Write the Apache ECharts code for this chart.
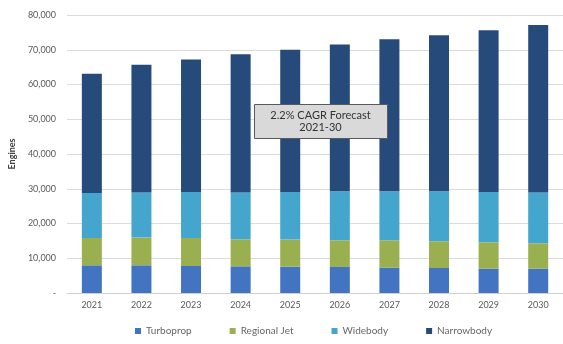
<!DOCTYPE html>
<html>
<head>
<meta charset="utf-8">
<script src="https://cdn.jsdelivr.net/npm/echarts@6/dist/echarts.min.js"></script>
<style>html,body{margin:0;padding:0;background:#fff}#c{width:563px;height:344px}</style>
</head>
<body>
<div id="c"></div>
<script>
const years = ['2021','2022','2023','2024','2025','2026','2027','2028','2029','2030'];
const turboprop   = [7970, 7970, 7770, 7680, 7580, 7490, 7300, 7200, 7010, 7010];
const regionalJet = [7860, 7970, 8060, 7770, 7790, 7680, 7870, 7680, 7580, 7290];
const widebody    = [12950, 12950, 13230, 13440, 13690, 14100, 14100, 14390, 14470, 14590];
const narrowbody  = [34320, 36810, 38140, 39810, 40940, 42230, 43730, 44930, 46540, 48210];
const seriesNames = ['Turboprop', 'Regional Jet', 'Widebody', 'Narrowbody'];
const annotationLines = ['2.2% CAGR Forecast', '2021-30'];

const colors = ['#4274c2', '#9aaf4f', '#44a5cd', '#264b7a'];
const font = 'Lato, "Open Sans", sans-serif';

const chart = echarts.init(document.getElementById('c'), null, {renderer: 'canvas'});
const mk = (name, data, i) => ({
  name, type: 'bar', stack: 'total', data, barWidth: 20,
  itemStyle: {color: colors[i]}
});
chart.setOption({
  animation: false,
  grid: {left: 63, right: -1, top: 15, bottom: 51, containLabel: false},
  xAxis: {
    type: 'category', data: years,
    axisLine: {lineStyle: {color: '#d0d0d0'}},
    axisTick: {show: false},
    axisLabel: {color: '#595959', fontSize: 9, fontFamily: font, margin: 8}
  },
  yAxis: {
    type: 'value', min: 0, max: 80000, interval: 10000,
    name: 'Engines', nameLocation: 'middle', nameGap: 44,
    nameTextStyle: {color: '#404040', fontSize: 9, fontWeight: 'bold', fontFamily: font},
    axisLine: {show: false}, axisTick: {show: false},
    splitLine: {lineStyle: {color: '#dcdcdc'}},
    axisLabel: {
      color: '#595959', fontSize: 9, fontFamily: font, margin: 11,
      formatter: v => v === 0 ? '-' : v.toLocaleString('en-US')
    }
  },
  legend: {
    data: seriesNames, bottom: 3, left: 130,
    itemWidth: 6, itemHeight: 6, itemGap: 38, icon: 'rect',
    textStyle: {color: '#666', fontSize: 10, fontFamily: font}
  },
  series: [
    mk(seriesNames[0], turboprop, 0),
    mk(seriesNames[1], regionalJet, 1),
    mk(seriesNames[2], widebody, 2),
    mk(seriesNames[3], narrowbody, 3)
  ],
  graphic: [
    {type: 'rect', left: 254, top: 104, z: 100, zlevel: 1,
     shape: {x: 0, y: 0, width: 133, height: 34},
     style: {fill: '#d9d9d9', stroke: '#5a5a5a', lineWidth: 1}},
    {type: 'text', x: 320.5, y: 121, z: 101, zlevel: 1,
     style: {text: annotationLines.join('\n'), fill: '#333', fontSize: 11, fontFamily: font,
             align: 'center', verticalAlign: 'middle', lineHeight: 12}}
  ]
});
</script>
</body>
</html>
